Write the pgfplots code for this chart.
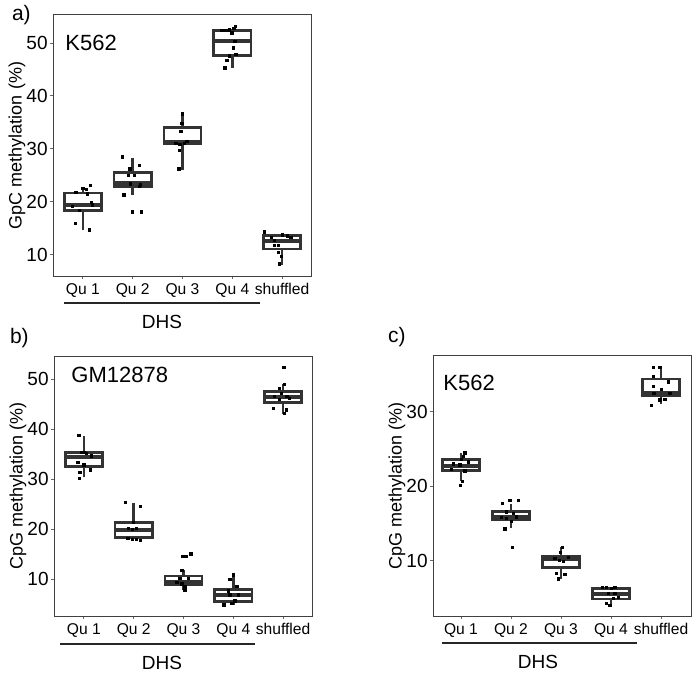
\documentclass[border=0pt]{standalone}
\usepackage{fontspec}
\setmainfont{Liberation Sans}
\usepackage{pgfplots}
\pgfplotsset{compat=1.18}
\usepgfplotslibrary{statistics}

\definecolor{boxline}{HTML}{333333}

\pgfplotsset{
  panel/.style={
    scale only axis, width=129.5pt, height=130pt,
    xmin=0.4, xmax=5.6, xtick={1,2,3,4,5},
    xticklabels={Qu 1,Qu 2,Qu 3,Qu 4,shuffled},
    axis line style={black!75, line width=0.5pt},
    tick align=outside, major tick length=1.5pt,
    tick style={black!60, line width=0.5pt},
    tick pos=left,
    /pgf/number format/assume math mode=true,
    yticklabel style={font=\fontsize{9.5}{10}\selectfont, inner sep=1pt},
    xticklabel style={font=\fontsize{7.8}{9}\selectfont, inner sep=1pt, yshift=-1pt},
    ylabel style={font=\fontsize{9}{10}\selectfont},
    ylabel shift=-4pt,
    boxplot/draw direction=y,
    boxplot/box extend=0.75,
    boxplot/whisker extend=0,
    boxplot/every median/.style={line width=2pt},
  },
  bx/.style={boxline, line width=1.3pt, solid},
  pts/.style={only marks, mark=square*, mark size=0.6pt, black},
}

\begin{document}
\begin{tikzpicture}
\useasboundingbox (0,0) rectangle (349.5pt,-336.5pt);

% ---- a) GpC, K562
\begin{axis}[panel, at={(26.5pt,-138pt)}, anchor=south west, height=130.5pt,
  ymin=6, ymax=55.3, ytick={10,20,30,40,50},
  ylabel={GpC methylation (\%)}]
\addplot[bx, boxplot prepared={draw position=1, lower whisker=14.7, lower quartile=18.4, median=19.5, upper quartile=21.7, upper whisker=22.9}] coordinates {};
\addplot[bx, boxplot prepared={draw position=2, lower whisker=21.3, lower quartile=22.9, median=23.6, upper quartile=25.6, upper whisker=28.3}] coordinates {};
\addplot[bx, boxplot prepared={draw position=3, lower whisker=26.1, lower quartile=30.9, median=31.4, upper quartile=34.1, upper whisker=36.8}] coordinates {};
\addplot[bx, boxplot prepared={draw position=4, lower whisker=45.3, lower quartile=47.7, median=50.4, upper quartile=52.4, upper whisker=52.4}] coordinates {};
\addplot[bx, boxplot prepared={draw position=5, lower whisker=8.1, lower quartile=11.1, median=12.7, upper quartile=13.6, upper whisker=13.6}] coordinates {};
\addplot[pts] coordinates {
 (0.86,21.8) (1.0,22.6) (1.07,22.4) (1.15,23.1) (1.09,21.5) (1.17,19.9) (1.19,19.4) (0.79,19.1) (0.93,18.4) (0.85,15.9) (1.13,14.7)
 (1.79,28.5) (2.13,26.9) (1.94,26.2) (1.91,25.0) (2.04,25.0) (1.96,23.4) (2.13,22.9) (2.15,23.2) (1.82,21.3) (1.99,18.1) (2.18,18.1)
 (3.0,36.6) (2.99,34.8) (2.97,33.3) (2.87,31.1) (2.95,30.9) (3.04,31.1) (3.09,31.4) (2.94,29.7) (2.93,26.2)
 (3.79,52.4) (3.87,52.4) (3.94,52.5) (3.99,51.9) (4.06,53.2) (4.03,52.8) (4.05,50.3) (4.02,49.1) (4.07,47.8) (3.94,47.6) (3.89,46.7) (3.85,45.3)
 (4.65,14.3) (4.78,13.3) (4.85,12.7) (4.85,11.8) (4.93,11.8) (5.01,13.8) (5.11,13.6) (5.18,13.3) (4.93,10.5) (4.98,9.7) (4.95,8.3)
};
\end{axis}

% ---- b) CpG, GM12878
\begin{axis}[panel, at={(27pt,-308pt)}, anchor=south west,
  ymin=2.6, ymax=54.6, ytick={10,20,30,40,50},
  ylabel={CpG methylation (\%)}]
\addplot[bx, boxplot prepared={draw position=1, lower whisker=30.5, lower quartile=32.5, median=34.5, upper quartile=35.3, upper whisker=38.6}] coordinates {};
\addplot[bx, boxplot prepared={draw position=2, lower whisker=18.3, lower quartile=18.3, median=19.9, upper quartile=21.3, upper whisker=25.3}] coordinates {};
\addplot[bx, boxplot prepared={draw position=3, lower whisker=7.8, lower quartile=8.8, median=9.5, upper quartile=10.6, upper whisker=11.8}] coordinates {};
\addplot[bx, boxplot prepared={draw position=4, lower whisker=4.8, lower quartile=5.5, median=6.8, upper quartile=7.9, upper whisker=10.8}] coordinates {};
\addplot[bx, boxplot prepared={draw position=5, lower whisker=43.1, lower quartile=45.3, median=46.5, upper quartile=47.5, upper whisker=49.1}] coordinates {};
\addplot[pts] coordinates {
 (0.9,38.7) (0.95,35.3) (1.01,35.3) (1.05,35.1) (1.15,34.6) (0.88,33.3) (1.0,32.8) (1.13,31.8) (0.92,31.3) (0.91,30.1)
 (1.83,25.3) (2.13,24.5) (1.99,21.3) (1.97,19.9) (2.05,20.1) (1.89,20.1) (1.88,18.1) (1.97,17.9) (2.05,17.9) (2.13,17.7)
 (2.99,14.5) (3.05,14.5) (3.15,15.0) (2.97,11.7) (2.93,10.1) (3.1,10.1) (2.87,9.3) (2.97,9.0) (3.03,8.5) (3.03,7.8)
 (4.0,10.8) (3.93,9.9) (4.07,8.5) (3.9,7.6) (4.1,6.8) (3.93,6.8) (4.03,5.6) (3.97,5.1) (3.81,4.8)
 (5.0,52.3) (5.03,52.3) (5.02,48.9) (4.93,48.1) (4.97,47.1) (4.83,46.5) (4.92,45.9) (5.08,46.5) (5.13,46.1) (4.81,44.1) (5.07,43.8) (5.03,43.1)
};
\end{axis}

% ---- c) CpG, K562
\begin{axis}[panel, at={(216.5pt,-308pt)}, anchor=south west, width=129pt,
  xmin=0.44,
  ymin=2.6, ymax=37.5, ytick={10,20,30},
  ylabel={CpG methylation (\%)}]
\addplot[bx, boxplot prepared={draw position=1, lower whisker=20.7, lower quartile=22.1, median=22.8, upper quartile=23.6, upper whisker=24.5}] coordinates {};
\addplot[bx, boxplot prepared={draw position=2, lower whisker=14.4, lower quartile=15.5, median=15.9, upper quartile=16.6, upper whisker=17.7}] coordinates {};
\addplot[bx, boxplot prepared={draw position=3, lower whisker=7.6, lower quartile=9.1, median=10.2, upper quartile=10.6, upper whisker=11.8}] coordinates {};
\addplot[bx, boxplot prepared={draw position=4, lower whisker=4.0, lower quartile=4.9, median=5.6, upper quartile=6.3, upper whisker=6.3}] coordinates {};
\addplot[bx, boxplot prepared={draw position=5, lower whisker=31.0, lower quartile=32.2, median=32.5, upper quartile=34.4, upper whisker=36.1}] coordinates {};
\addplot[pts] coordinates {
 (1.08,24.5) (1.05,24.0) (1.01,23.6) (1.15,23.3) (0.85,23.0) (0.98,22.9) (0.81,22.3) (1.08,22.1) (1.03,20.7) (0.99,20.1)
 (1.83,17.7) (2.15,18.1) (1.98,18.1) (1.91,16.6) (2.05,16.4) (1.81,15.8) (1.91,15.7) (2.11,15.9) (2.01,15.3) (1.88,14.3) (2.03,11.8)
 (3.03,11.8) (2.99,11.1) (2.88,10.3) (2.97,10.1) (3.15,10.5) (3.05,9.9) (2.91,8.3) (3.08,8.2) (2.95,7.6)
 (3.83,6.4) (3.91,6.4) (4.01,6.3) (4.08,6.4) (3.95,5.6) (4.08,5.6) (4.15,5.1) (4.05,5.0) (3.91,4.3) (3.98,4.0)
 (4.85,36.0) (4.98,36.0) (4.85,34.8) (5.15,34.0) (4.85,33.4) (5.01,33.0) (4.86,32.5) (5.18,32.5) (5.08,31.7) (4.98,31.6) (4.81,30.9)
};
\end{axis}

% panel letters, cell names, DHS brackets
\node[anchor=west, font=\fontsize{10.5}{12}\selectfont] at (2.5pt,-7.5pt) {a)};
\node[anchor=west, font=\fontsize{10.5}{12}\selectfont] at (1.5pt,-169pt) {b)};
\node[anchor=west, font=\fontsize{10.5}{12}\selectfont] at (190.5pt,-168.5pt) {c)};
\node[anchor=west, inner sep=0pt, font=\fontsize{11}{12}\selectfont] at (32.5pt,-21.5pt) {K562};
\node[anchor=west, inner sep=0pt, font=\fontsize{11}{12}\selectfont] at (35.5pt,-187.5pt) {GM12878};
\node[anchor=west, inner sep=0pt, font=\fontsize{11}{12}\selectfont] at (221.5pt,-191.5pt) {K562};
\draw[black!85, line width=0.7pt] (32pt,-151.5pt) -- (130pt,-151.5pt);
\draw[black!85, line width=0.7pt] (30pt,-322pt) -- (127.5pt,-322pt);
\draw[black!85, line width=0.7pt] (221pt,-321.5pt) -- (318.5pt,-321.5pt);
\node[font=\fontsize{9.5}{11}\selectfont] at (81pt,-161pt) {DHS};
\node[font=\fontsize{9.5}{11}\selectfont] at (81pt,-331.5pt) {DHS};
\node[font=\fontsize{9.5}{11}\selectfont] at (269pt,-331pt) {DHS};
\end{tikzpicture}
\end{document}
